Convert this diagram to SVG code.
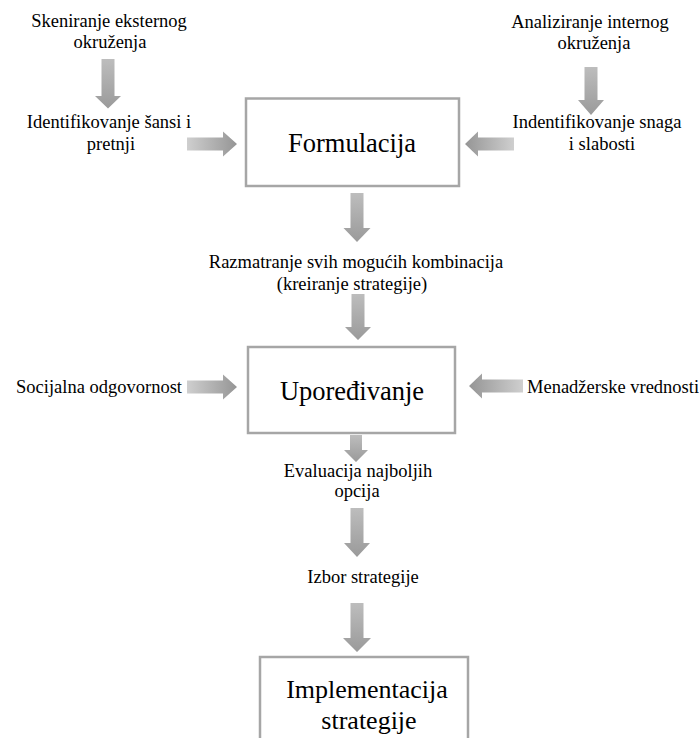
<svg xmlns="http://www.w3.org/2000/svg" width="699" height="738" viewBox="0 0 699 738">
<style>
.t{font-family:"Liberation Serif","Times New Roman",serif;font-size:18.5px;fill:#000;text-anchor:middle}
.b{font-family:"Liberation Serif","Times New Roman",serif;font-size:26.5px;fill:#000;text-anchor:middle}
.box{fill:#fff;stroke:#a6a6a6;stroke-width:2.5}
.ad{fill:url(#gd)}
.ar{fill:url(#gr)}
.al{fill:url(#gl)}
</style>
<defs>
<linearGradient id="gd" x1="0" y1="0" x2="0" y2="1"><stop offset="0" stop-color="#bdbdbd"/><stop offset="1" stop-color="#9a9a9a"/></linearGradient>
<linearGradient id="gr" x1="0" y1="0" x2="1" y2="0"><stop offset="0" stop-color="#cfcfcf"/><stop offset="1" stop-color="#959595"/></linearGradient>
<linearGradient id="gl" x1="1" y1="0" x2="0" y2="0"><stop offset="0" stop-color="#cfcfcf"/><stop offset="1" stop-color="#959595"/></linearGradient>
</defs>
<rect width="699" height="738" fill="#fff"/>
<g id="connectors">
<path class="ad" d="M101.5 59H114.5V96H121L108 108.5L95 96H101.5Z"/>
<path class="ad" d="M584.5 67H597.5V100H604L591 115L578 100H584.5Z"/>
<path class="ar" d="M187 137.5H223V131.5L237 144L223 156.5V150.5H187Z"/>
<path class="al" d="M514 137.5H478V131.5L465 144L478 156.5V150.5H514Z"/>
<path class="ad" d="M350.5 193H363.5V228H370.5L357 242L343.5 228H350.5Z"/>
<path class="ad" d="M351.5 294H364.5V327H371L358 340L345 327H351.5Z"/>
<path class="ar" d="M187 380.5H223V374.5L237 387L223 399.5V393.5H187Z"/>
<path class="al" d="M523 379.5H482V373.5L469 386L482 398.5V392.5H523Z"/>
<path class="ad" d="M350 435H362V450H368L356 462L344 450H350Z"/>
<path class="ad" d="M350.5 508H363.5V543H370L357 557L344 543H350.5Z"/>
<path class="ad" d="M350.5 603H363.5V638H371L357 652L343 638H350.5Z"/>
</g>
<g id="skeniranje"><text class="t" x="109" y="27">Skeniranje eksternog</text><text class="t" x="110" y="48">okruženja</text></g>
<g id="analiziranje"><text class="t" x="590" y="28">Analiziranje internog</text><text class="t" x="594" y="49">okruženja</text></g>
<g id="sanse"><text class="t" x="109" y="128">Identifikovanje šansi i</text><text class="t" x="111" y="150">pretnji</text></g>
<g id="snage"><text class="t" x="597" y="128">Indentifikovanje snaga</text><text class="t" x="602" y="150">i slabosti</text></g>
<g id="formulacija"><rect class="box" x="246" y="98.5" width="213" height="87.5"/><text class="b" x="352" y="152">Formulacija</text></g>
<g id="razmatranje"><text class="t" x="356" y="268">Razmatranje svih mogućih kombinacija</text><text class="t" x="352" y="290">(kreiranje strategije)</text></g>
<g id="uporedjivanje"><rect class="box" x="248" y="347" width="207" height="86"/><text class="b" x="352" y="400">Upoređivanje</text></g>
<g id="socijalna"><text class="t" x="99" y="393">Socijalna odgovornost</text></g>
<g id="menadzerske"><text class="t" x="527" y="393" style="text-anchor:start">Menadžerske vrednosti</text></g>
<g id="evaluacija"><text class="t" x="358" y="477">Evaluacija najboljih</text><text class="t" x="357" y="497">opcija</text></g>
<g id="izbor"><text class="t" x="363" y="583">Izbor strategije</text></g>
<g id="implementacija"><rect class="box" x="260" y="657" width="208" height="100"/><text class="b" x="367" y="698" style="font-size:26px">Implementacija</text><text class="b" x="369" y="729" style="font-size:26px">strategije</text></g>
</svg>
